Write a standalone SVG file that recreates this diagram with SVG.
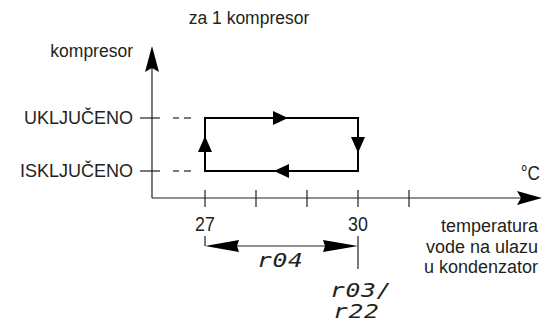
<svg xmlns="http://www.w3.org/2000/svg" width="554" height="321" viewBox="0 0 554 321">
<style>
.t{font-family:"Liberation Sans",Arial,sans-serif;fill:#231f20;font-size:18px}
.n{font-family:"Liberation Sans",Arial,sans-serif;fill:#231f20;font-size:21px}
.s{font-family:"DejaVu Sans Mono",monospace;font-style:italic;fill:#231f20;font-size:19px;letter-spacing:0.5px}
.ax{stroke:#231f20;stroke-width:1.2;fill:none}
.lp{stroke:#000;stroke-width:2;fill:none}
.ah{fill:#000;stroke:none}
</style>
<rect width="554" height="321" fill="#fff"/>
<g id="title"><text class="t" x="249" y="24" text-anchor="middle" style="font-size:17.5px">za 1 kompresor</text></g>
<g id="axes">
<line class="ax" x1="152" y1="60" x2="152" y2="198"/>
<path class="ah" d="M152,46 L159,72 L152,68 L145,72 Z"/>
<line class="ax" x1="152" y1="198" x2="530" y2="198"/>
<path class="ah" d="M542,198 L517,191 L521,198 L517,205 Z"/>
<text class="t" x="133" y="57" text-anchor="end" style="font-size:17.5px">kompresor</text>
<text class="n" transform="translate(540,180) scale(0.82,1)" text-anchor="end">°C</text>
</g>
<g id="ticks" class="ax">
<line x1="140" y1="118" x2="160" y2="118"/>
<line x1="140" y1="171" x2="160" y2="171"/>
<line x1="173" y1="118" x2="179" y2="118"/>
<line x1="184" y1="118" x2="191" y2="118"/>
<line x1="173" y1="171" x2="179" y2="171"/>
<line x1="184" y1="171" x2="191" y2="171"/>
<line x1="205" y1="190" x2="205" y2="207"/>
<line x1="256" y1="190" x2="256" y2="207"/>
<line x1="307" y1="190" x2="307" y2="207"/>
<line x1="358" y1="190" x2="358" y2="207"/>
<line x1="409" y1="190" x2="409" y2="207"/>
</g>
<g id="labels">
<text class="t" x="133" y="124" text-anchor="end">UKLJUČENO</text>
<text class="t" x="133" y="177" text-anchor="end">ISKLJUČENO</text>
<text class="n" transform="translate(205,231) scale(0.85,1)" text-anchor="middle">27</text>
<text class="n" transform="translate(358,231) scale(0.85,1)" text-anchor="middle">30</text>
<text class="t" x="538" y="232" text-anchor="end">temperatura</text>
<text class="t" x="538" y="253" text-anchor="end">vode na ulazu</text>
<text class="t" x="538" y="273" text-anchor="end">u kondenzator</text>
</g>
<g id="hysteresis">
<rect class="lp" x="205" y="118" width="153" height="53"/>
<path class="ah" d="M288,118 L273,111 L273,125 Z"/>
<path class="ah" d="M274,171 L289,164 L289,178 Z"/>
<path class="ah" d="M205,136 L198,152 L212,152 Z"/>
<path class="ah" d="M358,153 L351,137 L365,137 Z"/>
</g>
<g id="connectors">
<line class="ax" x1="205" y1="236" x2="205" y2="246"/>
<line class="ax" x1="358" y1="236" x2="358" y2="269"/>
<line class="ax" x1="230" y1="246" x2="333" y2="246"/>
<path class="ah" d="M205,246 L239,240 L237,246 L239,252 Z"/>
<path class="ah" d="M358,246 L323,240 L325,246 L323,252 Z"/>
</g>
<g id="params">
<text class="s" transform="translate(257,267) scale(1.3,1)">r04</text>
<text class="s" transform="translate(330,297) scale(1.3,1)">r03/</text>
<text class="s" transform="translate(333,318) scale(1.3,1)">r22</text>
</g>
</svg>
